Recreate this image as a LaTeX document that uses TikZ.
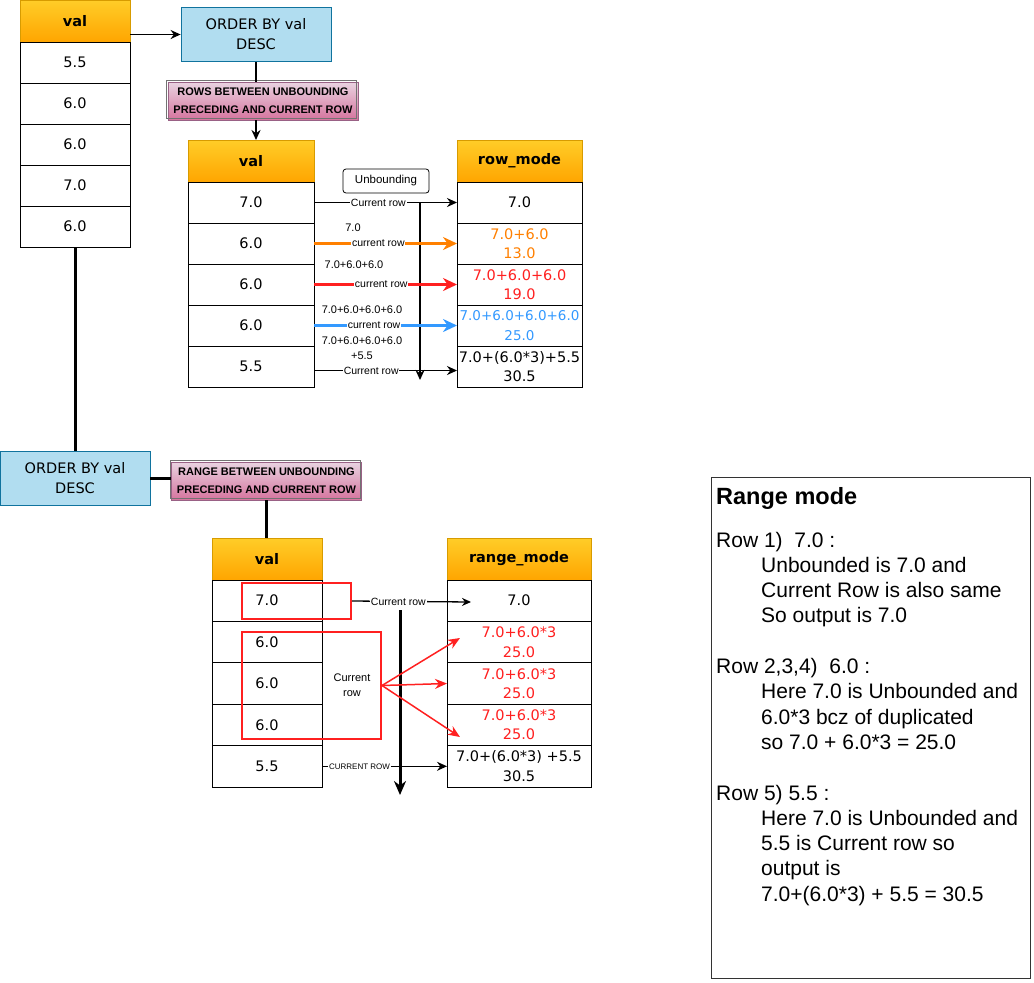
\documentclass[tikz,border=0pt]{standalone}
\usepackage{fontspec}
\setmainfont{Liberation Sans}
\newfontfamily\comicfont{DejaVu Sans}
\usepackage{xcolor}
\usepackage{tikz}
\usetikzlibrary{arrows.meta,positioning}

\definecolor{hdtop}{HTML}{FFCD28}
\definecolor{hdbot}{HTML}{FFA500}
\definecolor{hdline}{HTML}{D79B00}
\definecolor{obfill}{HTML}{B1DDF0}
\definecolor{obline}{HTML}{10739E}
\definecolor{pktop}{HTML}{E9D3E1}
\definecolor{pkbot}{HTML}{D5739D}
\definecolor{pkline}{HTML}{996185}
\definecolor{orangeln}{HTML}{FF8000}
\definecolor{redln}{HTML}{FF2020}
\definecolor{blueln}{HTML}{3399FF}

\begin{document}
\begin{tikzpicture}[x=1pt, y=-1pt, node distance=0pt,
   hdr/.style={draw=hdline, line width=0.8pt, top color=hdtop, bottom color=hdbot, minimum width=#1, minimum height=42pt,
      inner sep=0pt, outer sep=0pt, font=\comicfont\bfseries\fontsize{14.5}{17}\selectfont},
   cell/.style={draw, line width=0.8pt, fill=white, minimum width=#1, minimum height=41pt, inner sep=0pt, outer sep=0pt,
      align=center, font=\comicfont\fontsize{14.5}{19.5}\selectfont},
   orderbox/.style={draw=obline, line width=0.8pt, fill=obfill, minimum width=150pt, minimum height=54pt, align=center,
      font=\comicfont\fontsize{14.5}{20}\selectfont},
   modebox/.style={draw=pkline, line width=0.8pt, top color=pktop, bottom color=pkbot, minimum width=190pt, minimum height=38pt,
      inner sep=0pt, align=center, font=\bfseries\fontsize{11}{18}\selectfont,
      postaction={draw=black!55, line width=0.6pt, transform canvas={xshift=-1.5pt,yshift=1.5pt}}},
   lbl/.style={fill=white, inner sep=0.8pt, font=\fontsize{10.5}{12}\selectfont},
   sumtxt/.style={inner sep=0pt, align=center, font=\fontsize{11}{15}\selectfont},
   blk/.style={-{Stealth[length=10pt,width=9pt]}, line width=1.6pt},
   fat/.style={-{Stealth[length=14pt,width=13pt]}, line width=2.4pt},
   redbox/.style={draw=redln, line width=2pt, inner sep=0pt}]

   \useasboundingbox (0,0) rectangle (1034,983);

   % Define the input table
   \node[hdr=110pt] (t1h) at (75,21) {val};
   \node[cell=110pt] (t1r1) [below=of t1h] {5.5};
   \node[cell=110pt] (t1r2) [below=of t1r1] {6.0};
   \node[cell=110pt] (t1r3) [below=of t1r2] {6.0};
   \node[cell=110pt] (t1r4) [below=of t1r3] {7.0};
   \node[cell=110pt] (t1r5) [below=of t1r4] {6.0};

   % Define the rows mode part
   \node[orderbox] (ob1) at (256,34.5) {ORDER BY val\\DESC};
   \node[modebox] (pk1) at (263,101) {ROWS BETWEEN UNBOUNDING\\PRECEDING AND CURRENT ROW};

   \node[hdr=126pt] (t2h) at (251,161) {val};
   \node[cell=126pt] (t2r1) [below=of t2h] {7.0};
   \node[cell=126pt] (t2r2) [below=of t2r1] {6.0};
   \node[cell=126pt] (t2r3) [below=of t2r2] {6.0};
   \node[cell=126pt] (t2r4) [below=of t2r3] {6.0};
   \node[cell=126pt] (t2r5) [below=of t2r4] {5.5};

   \node[hdr=125pt] (t3h) at (519.5,161) {row\_mode};
   \node[cell=125pt] (t3r1) [below=of t3h] {7.0};
   \node[cell=125pt, text=orangeln] (t3r2) [below=of t3r1] {7.0+6.0\\13.0};
   \node[cell=125pt, text=redln] (t3r3) [below=of t3r2] {7.0+6.0+6.0\\19.0};
   \node[cell=125pt, text=blueln, font=\comicfont\fontsize{13.5}{19.5}\selectfont] (t3r4) [below=of t3r3] {7.0+6.0+6.0+6.0\\25.0};
   \node[cell=125pt] (t3r5) [below=of t3r4] {7.0+(6.0*3)+5.5\\30.5};

   \node[draw, line width=0.8pt, rounded corners=3pt, minimum width=86pt, minimum height=24pt, font=\fontsize{11.5}{13}\selectfont] (unb) at (386,181) {Unbounding};
   \node[sumtxt] (s2) at (353,228) {7.0};
   \node[sumtxt] (s3) at (354,265) {7.0+6.0+6.0};
   \node[sumtxt] (s4) at (362,310) {7.0+6.0+6.0+6.0};
   \node[sumtxt] (s5) at (362,348) {7.0+6.0+6.0+6.0\\+5.5};

   \coordinate (vtop) at (420,203);
   \coordinate (vbot) at (420,380);

   % Define the range mode part
   \node[orderbox] (ob2) at (75,478.5) {ORDER BY val\\DESC};
   \node[modebox] (pk2) at (266.5,481) {RANGE BETWEEN UNBOUNDING\\PRECEDING AND CURRENT ROW};

   \node[hdr=110pt] (t4h) at (267,559) {val};
   \node[cell=110pt] (t4r1) [below=of t4h, minimum height=41.4pt] {7.0};
   \node[cell=110pt] (t4r2) [below=of t4r1, minimum height=41.4pt] {6.0};
   \node[cell=110pt] (t4r3) [below=of t4r2, minimum height=41.4pt] {6.0};
   \node[cell=110pt] (t4r4) [below=of t4r3, minimum height=41.4pt] {6.0};
   \node[cell=110pt] (t4r5) [below=of t4r4, minimum height=41.4pt] {5.5};

   \node[hdr=144pt] (t5h) at (519,559) {range\_mode};
   \node[cell=144pt] (t5r1) [below=of t5h, minimum height=41.4pt] {7.0};
   \node[cell=144pt, text=redln] (t5r2) [below=of t5r1, minimum height=41.4pt] {7.0+6.0*3\\25.0};
   \node[cell=144pt, text=redln] (t5r3) [below=of t5r2, minimum height=41.4pt] {7.0+6.0*3\\25.0};
   \node[cell=144pt, text=redln] (t5r4) [below=of t5r3, minimum height=41.4pt] {7.0+6.0*3\\25.0};
   \node[cell=144pt] (t5r5) [below=of t5r4, minimum height=41.4pt] {7.0+(6.0*3) +5.5\\30.5};

   \node[redbox, minimum width=109pt, minimum height=36pt] (rb1) at (296.5,601) {};
   \node[redbox, minimum width=139pt, minimum height=107pt] (rb2) at (311.5,685.5) {};
   \node[sumtxt] (crow) at (352,685) {Current\\row};

   \coordinate (rtip) at (471,602);
   \coordinate (rup) at (460,638);
   \coordinate (rdown) at (460,737);
   \coordinate (v2top) at (400,610);
   \coordinate (v2bot) at (400,795);

   % Define the note
   \node[draw=black!80, line width=0.8pt, minimum width=319pt, minimum height=501pt] (note) at (870.5,727.5) {};
   \node[anchor=north west, inner sep=0pt, align=left, font=\fontsize{21}{25.3}\selectfont] (notetxt) at (716,487)
      {{\bfseries\fontsize{23.5}{25}\selectfont Range mode}\\[17.5pt]
       Row 1)\ \ 7.0 :\\
       \hspace*{45pt}Unbounded is 7.0 and\\
       \hspace*{45pt}Current Row is also same\\
       \hspace*{45pt}So output is 7.0\\[25.3pt]
       Row 2,3,4)\ \ 6.0 :\\
       \hspace*{45pt}Here 7.0 is Unbounded and\\
       \hspace*{45pt}6.0*3 bcz of duplicated\\
       \hspace*{45pt}so 7.0 + 6.0*3 = 25.0\\[25.3pt]
       Row 5) 5.5 :\\
       \hspace*{45pt}Here 7.0 is Unbounded and\\
       \hspace*{45pt}5.5 is Current row so\\
       \hspace*{45pt}output is\\
       \hspace*{45pt}7.0+(6.0*3) + 5.5 = 30.5};

   % Define transitions
   \draw[blk] (ob1 -| t1h.east) -- (ob1.west);
   \draw[line width=1.6pt] (ob1.south) -- (ob1.south |- pk1.north);
   \draw[blk] (pk1.south -| ob1.south) -- (t2h.north -| ob1.south);

   \path[blk, every node/.style=lbl]
    (t2r1) edge node[pos=0.45] {Current row} (t3r1)
    (vtop) edge (vbot)
    ([yshift=-4pt]t2r5.east) edge node[pos=0.4] {Current row} ([yshift=-4pt]t3r5.west);
   \path[fat, every node/.style=lbl]
    (t2r2) edge[orangeln] node[pos=0.45, text=black] {current row} (t3r2)
    (t2r3) edge[redln] node[pos=0.47, text=black] {current row} (t3r3)
    (t2r4) edge[blueln] node[pos=0.42, text=black] {current row} (t3r4);

   \draw[line width=3pt] (t1r5.south) -- (ob2.north);
   \draw[line width=3pt] (ob2.east) -- (ob2.east -| pk2.west);
   \draw[line width=3pt] (pk2.south) -- (pk2.south |- t4h.north);

   \draw[-{Stealth[length=9pt,width=8pt]}, line width=1.3pt] (rb1.east) -- node[lbl, pos=0.39] {Current row} (rtip);
   \draw[-{Stealth[length=14pt,width=12pt]}, line width=3pt] (v2top) -- (v2bot);
   \draw[-{Stealth[length=10pt,width=9pt]}, line width=1.3pt] (t4r5) -- node[lbl, pos=0.3, font=\fontsize{8}{10}\selectfont] {CURRENT ROW} (t5r5);
   \path[-{Stealth[length=12pt,width=10pt]}, line width=1.5pt, redln]
    (rb2.east) edge (rup)
               edge (t5r3.west)
               edge (rdown);

\end{tikzpicture}
\end{document}
